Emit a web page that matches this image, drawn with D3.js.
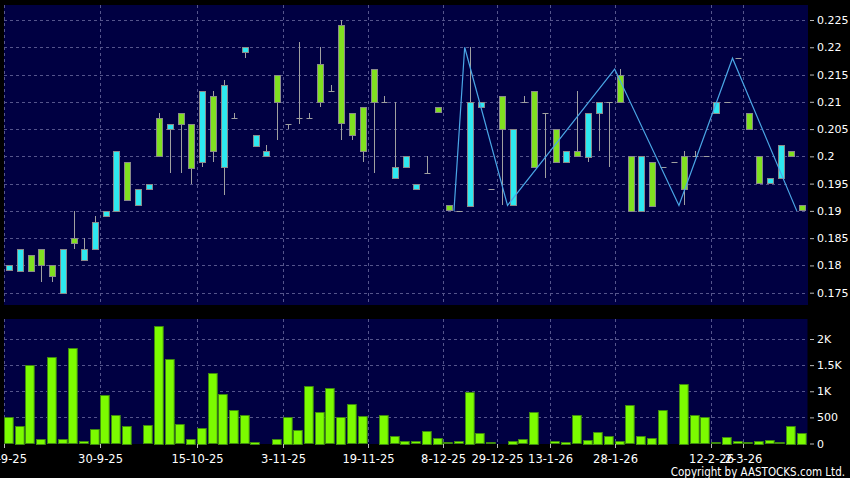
<!DOCTYPE html>
<html>
<head>
<meta charset="utf-8">
<script src="https://cdn.jsdelivr.net/npm/d3@7"></script>
<style>
body { margin: 0; background: #000; }
text { font-family: "DejaVu Sans", Verdana, sans-serif; fill: #fff; }
</style>
</head>
<body>
<div id="main-container"></div>
<script>
var opens  = [0.179,0.179,0.182,0.183,0.180,0.175,0.185,0.181,0.183,0.189,
              0.190,0.199,0.191,0.194,0.207,0.205,0.208,0.206,0.199,0.211,
              0.198,0.207,0.219,0.202,0.200,0.215,0.206,0.207,0.207,0.217,
              0.212,0.224,0.208,0.209,0.216,0.210,0.196,0.198,0.194,0.197,
              0.209,0.191,0.190,0.191,0.209,0.194,0.211,0.191,0.210,0.212,
              0.208,0.205,0.199,0.201,0.200,0.208,0.210,0.215,0.200,0.190,
              0.199,0.198,0.199,0.200,0.200,0.200,0.208,0.210,0.218,0.208,
              0.200,0.195,0.196,0.201,0.191]
var highs  = [0.180,0.183,0.182,0.183,0.180,0.183,0.190,0.185,0.189,0.190,
              0.201,0.199,0.194,0.195,0.208,0.206,0.208,0.206,0.212,0.212,
              0.214,0.208,0.220,0.204,0.202,0.215,0.206,0.221,0.208,0.220,
              0.213,0.225,0.208,0.209,0.216,0.211,0.210,0.200,0.195,0.200,
              0.209,0.191,0.190,0.220,0.210,0.194,0.211,0.205,0.211,0.212,
              0.208,0.205,0.201,0.212,0.208,0.210,0.210,0.216,0.200,0.200,
              0.199,0.198,0.199,0.201,0.201,0.200,0.210,0.210,0.218,0.208,
              0.200,0.196,0.202,0.201,0.191]
var lows   = [0.179,0.179,0.179,0.177,0.177,0.175,0.183,0.181,0.183,0.189,
              0.190,0.192,0.191,0.194,0.200,0.197,0.197,0.195,0.198,0.199,
              0.193,0.207,0.218,0.202,0.200,0.203,0.205,0.206,0.207,0.209,
              0.212,0.203,0.203,0.199,0.197,0.210,0.196,0.198,0.194,0.197,
              0.208,0.190,0.190,0.191,0.209,0.194,0.191,0.191,0.210,0.198,
              0.196,0.199,0.199,0.200,0.199,0.201,0.198,0.210,0.190,0.190,
              0.191,0.198,0.199,0.191,0.200,0.200,0.208,0.210,0.218,0.205,
              0.195,0.195,0.196,0.200,0.190]
var closes = [0.180,0.183,0.179,0.180,0.178,0.183,0.184,0.183,0.188,0.190,
              0.201,0.192,0.194,0.195,0.200,0.206,0.206,0.198,0.212,0.201,
              0.213,0.207,0.220,0.204,0.201,0.210,0.206,0.207,0.207,0.210,
              0.212,0.206,0.204,0.201,0.210,0.210,0.198,0.200,0.195,0.197,
              0.208,0.190,0.190,0.210,0.210,0.194,0.205,0.205,0.210,0.198,
              0.208,0.199,0.201,0.200,0.208,0.210,0.210,0.210,0.190,0.200,
              0.191,0.198,0.199,0.194,0.200,0.200,0.210,0.210,0.218,0.205,
              0.195,0.196,0.202,0.200,0.190]
var volumes = [505,335,1500,90,1650,80,1820,45,280,920,
               540,335,0,350,2250,1620,365,95,300,1340,
               950,640,545,30,5,95,515,265,1095,610,
               1060,515,755,520,0,555,135,50,40,240,
               108,25,45,990,197,25,5,50,83,605,
               5,45,38,540,70,223,146,57,735,146,
               108,643,0,1140,540,503,25,127,45,25,
               51,64,25,344,204]

// zigzag overlay
var zzIdx = [42,43,47,57,63,68,74]
var zzVal = [0.190,0.220,0.191,0.216,0.191,0.218,0.190]

var priceTicks = [0.175,0.18,0.185,0.19,0.195,0.2,0.205,0.21,0.215,0.22,0.225]
var volTicks = [0,500,1000,1500,2000]
var volLabels = ["0","500","1K","1.5K","2K"]
var dateIdx = [0,9,18,26,34,41,46,51,57,66,69]
var dateLabels = ["17-9-25","30-9-25","15-10-25","3-11-25","19-11-25","8-12-25",
                  "29-12-25","13-1-26","28-1-26","12-2-26","2-3-26"]

var width = 850,
    height = 478

var upCol = "#2ee8f0",
    downCol = "#80e020",
    gridCol = "#55558c"

var svg = d3.select("#main-container").append("svg")
  .attr("width", width)
  .attr("height", height)
  .style("background", "#000")

var x = d3.scaleBand()
  .domain(d3.range(opens.length))
  .range([4, 807.5])

var y = d3.scaleLinear()
  .domain([0.175, 0.225])
  .range([292.7, 20])

var yVol = d3.scaleLinear()
  .domain([0, 2000])
  .range([443.5, 339])

function cx(i) { return Math.round(x(i) + x.bandwidth()/2) + 0.5 }

// panels
svg.append("rect").attr("x", 4).attr("y", 5).attr("width", 804).attr("height", 300).attr("fill", "#000042")
svg.append("rect").attr("x", 4).attr("y", 319).attr("width", 803.5).attr("height", 125).attr("fill", "#000042")

// grid
var grid = svg.append("g")
  .attr("stroke", gridCol)
  .attr("stroke-dasharray", "3,3")

grid.selectAll(".hp").data(priceTicks).enter().append("line")
  .attr("x1", 4).attr("x2", 808)
  .attr("y1", function(d){ return Math.round(y(d)) + 0.5 })
  .attr("y2", function(d){ return Math.round(y(d)) + 0.5 })

grid.selectAll(".hv").data(volTicks.slice(1)).enter().append("line")
  .attr("x1", 4).attr("x2", 807.5)
  .attr("y1", function(d){ return Math.round(yVol(d)) + 0.5 })
  .attr("y2", function(d){ return Math.round(yVol(d)) + 0.5 })

dateIdx.forEach(function(i){
  var gx = Math.round(x(i)) + 0.5
  grid.append("line").attr("x1", gx).attr("x2", gx).attr("y1", 5).attr("y2", 305)
  grid.append("line").attr("x1", gx).attr("x2", gx).attr("y1", 319).attr("y2", 444)
})

// candles
var candle = svg.append("g").selectAll("g")
  .data(d3.range(opens.length))
  .enter().append("g")

candle.append("line")
  .attr("x1", cx).attr("x2", cx)
  .attr("y1", function(i){ return Math.round(y(highs[i])) })
  .attr("y2", function(i){ return Math.round(y(lows[i])) })
  .attr("stroke", "#a0a0a0")

candle.filter(function(i){ return opens[i] != closes[i] })
  .append("rect")
  .attr("x", function(i){ return cx(i) - 3 })
  .attr("y", function(i){ return Math.round(y(Math.max(opens[i], closes[i]))) + 0.5 })
  .attr("width", 6)
  .attr("height", function(i){ return Math.round(Math.abs(y(opens[i]) - y(closes[i]))) })
  .attr("fill", function(i){ return closes[i] > opens[i] ? upCol : downCol })
  .attr("stroke", "#8a8a8a")

candle.filter(function(i){ return opens[i] == closes[i] })
  .append("line")
  .attr("x1", function(i){ return cx(i) - 3 })
  .attr("x2", function(i){ return cx(i) + 3 })
  .attr("y1", function(i){ return Math.round(y(opens[i])) + 0.5 })
  .attr("y2", function(i){ return Math.round(y(opens[i])) + 0.5 })
  .attr("stroke", "#a0a0a0")

// zigzag
var zz = d3.line()
  .x(function(d, k){ return x(zzIdx[k]) })
  .y(function(d){ return y(d) })

svg.append("path")
  .attr("d", zz(zzVal))
  .attr("fill", "none")
  .attr("stroke", "#4aa6e6")
  .attr("stroke-width", 1.2)

// volume bars (indices, so zero days keep their slot)
svg.append("g").selectAll("rect")
  .data(d3.range(volumes.length).filter(function(i){ return volumes[i] > 0 }))
  .enter().append("rect")
  .attr("x", function(i){ return Math.round(x(i)) + 0.5 })
  .attr("y", function(i){ return Math.round(yVol(volumes[i])) + 0.5 })
  .attr("width", x.bandwidth() - 2)
  .attr("height", function(i){ return Math.max(0, Math.round(yVol(0) - yVol(volumes[i]))) })
  .attr("fill", "#7cfc00")
  .attr("stroke", "#3f8a10")

// axes
var priceAxis = svg.append("g")
  .attr("transform", "translate(810,0)")
  .call(d3.axisRight(y).tickValues(priceTicks).tickSize(4).tickPadding(3)
    .tickFormat(function(d){ return String(d) }))

var volAxis = svg.append("g")
  .attr("transform", "translate(810,0)")
  .call(d3.axisRight(yVol).tickValues(volTicks).tickSize(4).tickPadding(3)
    .tickFormat(function(d, k){ return volLabels[k] }))

var xAxis = svg.append("g")
  .attr("transform", "translate(0,444)")
  .call(d3.axisBottom(x).tickValues(dateIdx).tickSize(4).tickPadding(7)
    .tickFormat(function(d, k){ return dateLabels[k] }))

xAxis.selectAll(".tick").attr("transform", function(i){ return "translate(" + (Math.round(x(i)) + 0.5) + ",0)" })

svg.selectAll(".domain").remove()
svg.selectAll(".tick line").attr("stroke", "#bbbbbb")
svg.selectAll(".tick text").attr("fill", "#fff").style("font-size", "11px").style("font-family", "DejaVu Sans")
xAxis.selectAll(".tick text").style("font-size", "11.5px")

svg.append("text")
  .attr("x", 845)
  .attr("y", 476)
  .attr("text-anchor", "end")
  .style("font-family", "DejaVu Sans Condensed")
  .style("font-size", "11.5px")
  .text("Copyright by AASTOCKS.com Ltd.")
</script>
</body>
</html>
